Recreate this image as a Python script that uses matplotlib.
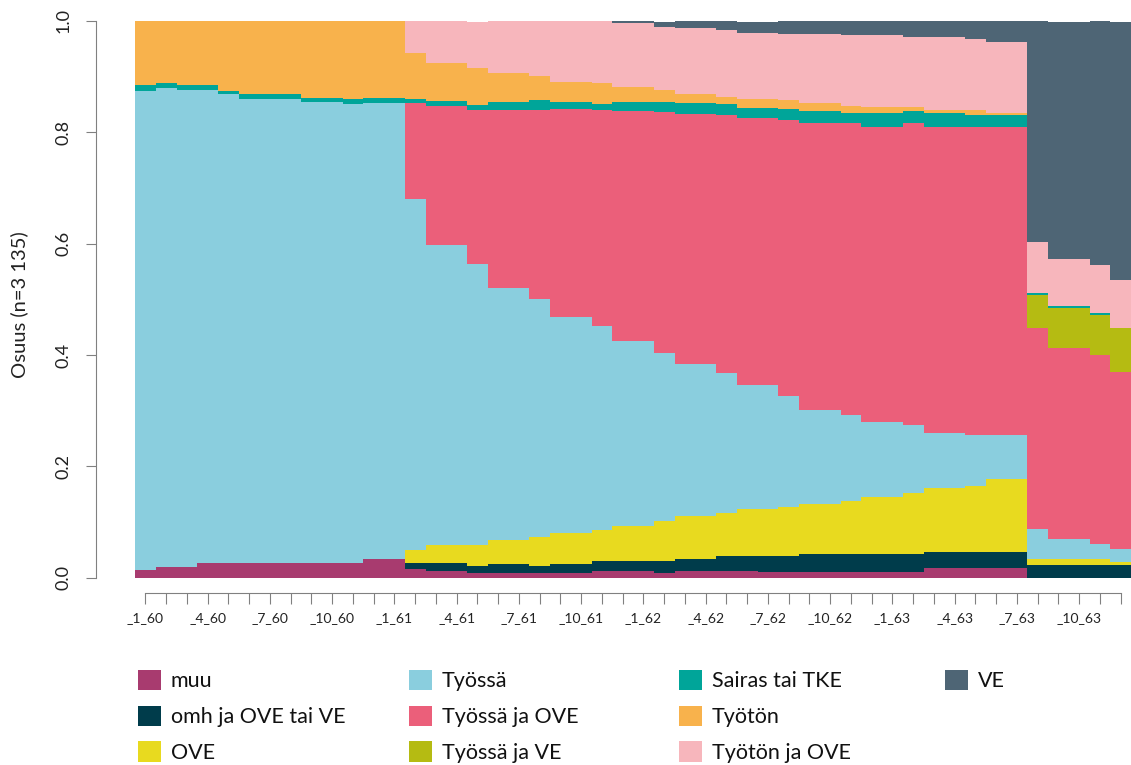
import numpy as np
import matplotlib.pyplot as plt
from matplotlib.patches import Patch

plt.rcParams['font.family'] = ['Lato', 'DejaVu Sans']

# monthly shares, 1/60 ... 12/63 (48 months)
muu = [0.014, 0.020, 0.020, 0.026, 0.026, 0.026, 0.026, 0.026, 0.026, 0.026, 0.026, 0.034, 0.034,
       0.016, 0.012, 0.012, 0.008, 0.008, 0.008, 0.008, 0.008, 0.008, 0.012, 0.012, 0.012, 0.008,
       0.012, 0.012, 0.012, 0.012, 0.011, 0.011, 0.011, 0.011, 0.011, 0.011, 0.011, 0.011,
       0.017, 0.017, 0.017, 0.017, 0.017, 0.0, 0.0, 0.0, 0.0, 0.0]
omh = [0.0] * 13 + \
      [0.010, 0.014, 0.014, 0.013, 0.017, 0.017, 0.013, 0.017, 0.017, 0.018, 0.018, 0.018, 0.022,
       0.022, 0.022, 0.027, 0.027, 0.028, 0.028, 0.032, 0.032, 0.032, 0.032, 0.032, 0.032,
       0.029, 0.029, 0.029, 0.029, 0.029, 0.022, 0.022, 0.022, 0.022, 0.022]
ove = [0.0] * 13 + \
      [0.023, 0.033, 0.033, 0.037, 0.043, 0.043, 0.052, 0.055, 0.055, 0.056, 0.063, 0.063, 0.071,
       0.076, 0.076, 0.077, 0.084, 0.084, 0.088, 0.090, 0.090, 0.094, 0.102, 0.102, 0.109,
       0.115, 0.115, 0.119, 0.131, 0.131, 0.011, 0.011, 0.011, 0.011, 0.006]
tyossa = [0.861, 0.859, 0.856, 0.850, 0.843, 0.833, 0.833, 0.833, 0.829, 0.829, 0.825, 0.819, 0.819,
          0.632, 0.539, 0.539, 0.505, 0.453, 0.453, 0.427, 0.389, 0.389, 0.366, 0.332, 0.332, 0.302,
          0.274, 0.274, 0.251, 0.223, 0.223, 0.199, 0.169, 0.169, 0.155, 0.134, 0.134, 0.122,
          0.099, 0.099, 0.091, 0.079, 0.079, 0.054, 0.037, 0.037, 0.027, 0.024]
tyossa_ove = [0.0] * 13 + \
             [0.172, 0.249, 0.249, 0.277, 0.320, 0.320, 0.341, 0.373, 0.373, 0.389, 0.413, 0.413, 0.434,
              0.449, 0.449, 0.465, 0.480, 0.480, 0.496, 0.515, 0.515, 0.525, 0.531, 0.531, 0.543,
              0.549, 0.549, 0.553, 0.553, 0.553, 0.361, 0.342, 0.342, 0.340, 0.318]
tyossa_ve = [0.0] * 43 + [0.059, 0.072, 0.072, 0.072, 0.079]
sairas = [0.010, 0.010, 0.009, 0.009, 0.006, 0.010, 0.010, 0.010, 0.007, 0.007, 0.009, 0.009, 0.009,
          0.006, 0.009, 0.009, 0.010, 0.013, 0.013, 0.017, 0.013, 0.013, 0.010, 0.017, 0.017, 0.017,
          0.019, 0.019, 0.019, 0.017, 0.017, 0.020, 0.022, 0.022, 0.018, 0.025, 0.025, 0.022,
          0.026, 0.026, 0.023, 0.023, 0.023, 0.004, 0.004, 0.004, 0.004, 0.0]
tyoton = [0.115, 0.111, 0.115, 0.115, 0.125, 0.131, 0.131, 0.131, 0.138, 0.138, 0.140, 0.138, 0.138,
          0.084, 0.068, 0.068, 0.065, 0.052, 0.052, 0.043, 0.036, 0.036, 0.037, 0.027, 0.027, 0.022,
          0.017, 0.017, 0.013, 0.016, 0.016, 0.016, 0.013, 0.013, 0.013, 0.010, 0.010, 0.006,
          0.005, 0.005, 0.008, 0.002, 0.002, 0.0, 0.0, 0.0, 0.0, 0.0]
tyoton_ove = [0.0] * 13 + \
             [0.058, 0.078, 0.078, 0.084, 0.094, 0.094, 0.099, 0.109, 0.109, 0.113, 0.115, 0.115, 0.113,
              0.119, 0.119, 0.120, 0.120, 0.120, 0.119, 0.125, 0.125, 0.126, 0.129, 0.129, 0.126,
              0.131, 0.131, 0.127, 0.128, 0.128, 0.092, 0.085, 0.085, 0.085, 0.086]
ve = [0.0] * 23 + \
     [0.003, 0.003, 0.010,
      0.013, 0.013, 0.016, 0.020, 0.020, 0.024, 0.024, 0.024, 0.027, 0.027, 0.027, 0.030,
      0.030, 0.030, 0.033, 0.038, 0.038, 0.397, 0.426, 0.426, 0.439, 0.464]

names = ["muu", "omh ja OVE tai VE", "OVE", "Työssä", "Työssä ja OVE", "Työssä ja VE",
         "Sairas tai TKE", "Työtön", "Työtön ja OVE", "VE"]
colors = ["#A83B6F", "#003C4B", "#E8DA1F", "#8ACEDE", "#EB5F7A", "#B5BB12",
          "#00A599", "#F8B24C", "#F7B6BC", "#4E6575"]
series = [muu, omh, ove, tyossa, tyossa_ove, tyossa_ve, sairas, tyoton, tyoton_ove, ve]

months = ["_%d_%d" % (m, y) for y in range(60, 64) for m in range(1, 13)]

fig = plt.figure(figsize=(11.31, 7.65), dpi=100)
ax = fig.add_axes([135 / 1131, (765 - 577.7) / 765, 996 / 1131, 556.7 / 765])

x = np.arange(len(months) + 1)
bottom = np.zeros(len(months))
for vals, col in zip(series, colors):
    top = bottom + np.array(vals)
    ax.fill_between(x, np.append(bottom, bottom[-1]), np.append(top, top[-1]),
                    step='post', color=col, linewidth=0)
    bottom = top

ax.set_xlim(0, len(months))
ax.set_ylim(0, 1)
for s in ['top', 'right']:
    ax.spines[s].set_visible(False)
ax.spines['left'].set_position(('outward', 28))
ax.spines['bottom'].set_position(('outward', 11))
ax.spines['bottom'].set_bounds(0.5, len(months) - 0.5)
for s in ['left', 'bottom']:
    ax.spines[s].set_color('#808080')
    ax.spines[s].set_linewidth(0.8)

ax.set_xticks(np.arange(len(months)) + 0.5)
ax.set_xticklabels([m if i % 3 == 0 else "" for i, m in enumerate(months)])
ax.tick_params(axis='x', length=8, color='#808080', pad=6, labelsize=10, labelcolor='#222222')

ax.set_yticks([0, 0.2, 0.4, 0.6, 0.8, 1.0])
ax.set_yticklabels(["0.0", "0.2", "0.4", "0.6", "0.8", "1.0"])
ax.tick_params(axis='y', length=7, color='#808080', pad=11, labelsize=13, labelcolor='#222222')
for lab in ax.get_yticklabels():
    lab.set_rotation(90)
    lab.set_va('center')

ax.set_ylabel("Osuus (n=3 135)", fontsize=14.5, color='#222222', va='center')
ax.yaxis.set_label_coords(-0.1165, 0.49)

# legend in four columns
cols = [[0, 1, 2], [3, 4, 5], [6, 7, 8], [9]]
col_x = [138, 409, 679, 945]
for idx, cx in zip(cols, col_x):
    fig.legend(handles=[Patch(facecolor=colors[i], edgecolor='none') for i in idx],
               labels=[names[i] for i in idx], loc='upper left',
               bbox_to_anchor=(cx / 1131, 1 - 670 / 765), frameon=False, fontsize=15.5,
               handlelength=1.07, handleheight=1.07, handletextpad=0.45,
               labelspacing=0.66, borderpad=0, borderaxespad=0, labelcolor='#111111')

fig.savefig("out.png", dpi=100)
